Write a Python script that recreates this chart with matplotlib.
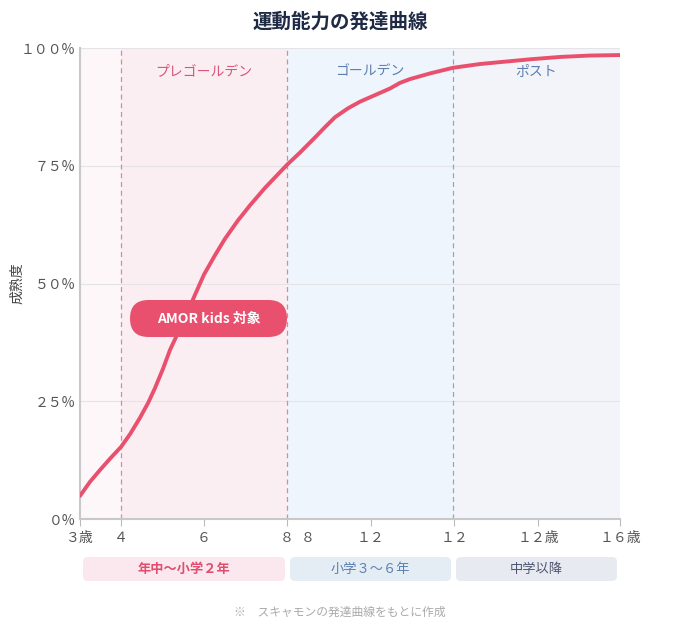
import matplotlib.pyplot as plt
from matplotlib.patches import FancyBboxPatch
from matplotlib.transforms import IdentityTransform

plt.rcParams['font.family'] = ['Noto Sans CJK JP', 'DejaVu Sans']

# x in chart units (0..540 across the axis), y in %
curve_x = [0, 10, 20, 30, 41, 50, 60, 68, 75, 83, 90, 98, 105, 115, 124, 135, 145, 158, 170,
           185, 207, 220, 235, 245, 255, 268, 280, 295, 310, 320, 330, 350, 373, 400, 420, 450, 480, 510, 540]
curve_y = [4.9, 7.9, 10.4, 12.8, 15.3, 18.0, 21.5, 24.6, 27.8, 31.9, 35.9, 39.5, 42.7, 47.6, 51.9, 56.0, 59.5,
           63.4, 66.6, 70.3, 75.2, 77.8, 81.0, 83.2, 85.3, 87.2, 88.6, 90.0, 91.4, 92.6, 93.4, 94.6, 95.8,
           96.6, 97.0, 97.6, 98.1, 98.4, 98.5]
tick_pos = [0, 41, 124, 207, 291, 374, 458, 540]
tick_labels = ['３歳', '４', '６', '８', '１２', '１２', '１２歳', '１６歳']
bounds = [0, 41, 207, 373, 540]
phase_names = ['プレゴールデン', 'ゴールデン', 'ポスト']
stage_names = ['年中〜小学２年', '小学３〜６年', '中学以降']

W, H = 680, 640
fig = plt.figure(figsize=(6.8, 6.4), dpi=100)
ax = fig.add_axes([80 / W, 121 / H, 540 / W, 471 / H])
ax.set_xlim(0, 540)
ax.set_ylim(0, 100)

bg = ['#fdf7f9', '#fbeef2', '#eef5fc', '#f3f4f9']
for i in range(4):
    ax.axvspan(bounds[i], bounds[i + 1], color=bg[i], zorder=0, lw=0)
for y in [25, 50, 75, 100]:
    ax.axhline(y, color='#e4e4e8', lw=0.8, zorder=1)
for x, c in zip(bounds[1:4], ['#d58aa0', '#d58aa0', '#8fa6c8']):
    ax.axvline(x, color=c, lw=0.9, ls=(0, (4, 3)), zorder=1)

phase_col = ['#d9557a', '#5b7fb0', '#5b7fb0']
for i, name in enumerate(phase_names):
    ax.text((bounds[i + 1] + bounds[i + 2]) / 2, 95.0, name, ha='center', va='center',
            fontsize=10, color=phase_col[i])

ax.plot(curve_x, curve_y, color='#e8506e', lw=2.8, zorder=3, solid_capstyle='round')


def pill(x0, x1, y0, y1, r, fc, z=4):
    # pixel box, y measured from top
    p = FancyBboxPatch((x0, H - y1), x1 - x0, y1 - y0,
                       boxstyle=f'round,pad=0,rounding_size={r}', transform=IdentityTransform(),
                       fc=fc, ec='none', zorder=z)
    fig.add_artist(p)


pill(130, 287, 300, 337, 18.5, '#e8506e')
fig.text(208.5 / W, 1 - 318.5 / H, 'AMOR kids 対象', ha='center', va='center',
         color='white', fontsize=10, fontweight='bold', zorder=5)

ax.set_yticks([0, 25, 50, 75, 100])
ax.set_yticklabels(['０%', '２５%', '５０%', '７５%', '１００%'])
ax.set_xticks(tick_pos)
ax.set_xticklabels(tick_labels)
ax.set_xticks([228], minor=True)
ax.set_xticklabels(['８'], minor=True)
ax.tick_params(axis='both', colors='#bbbbbb', labelcolor='#555555', labelsize=10, length=5)
ax.tick_params(axis='x', which='minor', length=0, labelsize=10, labelcolor='#555555', pad=8.5)
ax.tick_params(axis='y', length=0)
for s in ['top', 'right']:
    ax.spines[s].set_visible(False)
for s in ['left', 'bottom']:
    ax.spines[s].set_color('#c8c8c8')
    ax.spines[s].set_linewidth(1.5)
ax.set_ylabel('成熟度', fontsize=10, color='#444444')
ax.yaxis.set_label_coords(-56 / 540, 0.5)

fig.text(0.5, 1 - 22 / H, '運動能力の発達曲線', ha='center', va='center',
         fontsize=14, fontweight='bold', color='#1f2a44')

pills = [(83, 285, '#fbe8ee', '#e04e6f', 'bold'), (290, 451, '#e4ecf4', '#5b7fb0', 'normal'),
         (456, 617, '#e8eaf2', '#4d5670', 'normal')]
for (x0, x1, fc, tc, fw), name in zip(pills, stage_names):
    pill(x0, x1, 557, 581, 5, fc, z=1)
    fig.text((x0 + x1) / 2 / W, 1 - 569 / H, name, ha='center', va='center', fontsize=9.5,
             color=tc, fontweight=fw)

fig.text(0.5, 1 - 612 / H, '※　スキャモンの発達曲線をもとに作成', ha='center', va='center',
         fontsize=8.5, color='#aaaaaa')

fig.savefig('out.png', dpi=100)
